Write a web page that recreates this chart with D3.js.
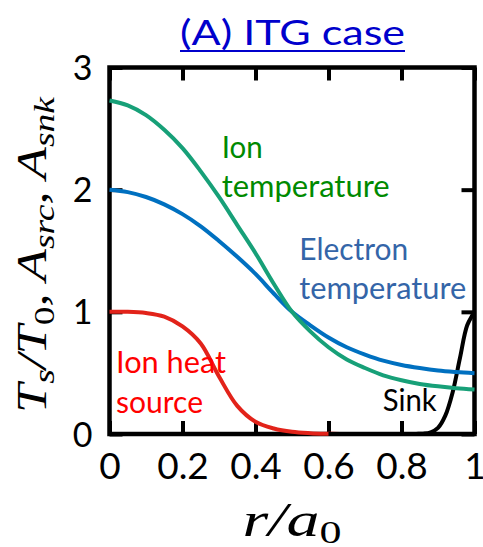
<!DOCTYPE html>
<html><head><meta charset="utf-8">
<script src="https://cdn.jsdelivr.net/npm/d3@7"></script>
<style>body{margin:0;background:#fff} svg{display:block}</style>
</head><body><svg id="c" width="483" height="547"></svg>
<script>
// ---- data ----
const radius = [0,0.05,0.1,0.15,0.2,0.25,0.3,0.35,0.4,0.45,0.5,0.55,0.6,0.65,0.7,0.75,0.8,0.85,0.9,0.95,1];
const ionTemperature = [2.73,2.69,2.61,2.49,2.34,2.15,1.94,1.71,1.48,1.23,1.00,0.84,0.71,0.61,0.54,0.48,0.44,0.41,0.39,0.375,0.365];
const electronTemperature = [2.00,1.98,1.94,1.88,1.80,1.70,1.58,1.45,1.31,1.15,1.00,0.89,0.79,0.71,0.65,0.60,0.565,0.54,0.52,0.507,0.497];
const sourceRadius = [0,0.05,0.1,0.15,0.2,0.25,0.3,0.35,0.4,0.45,0.5,0.55,0.6,0.63];
const ionHeatSource = [1.00,1.00,0.99,0.96,0.88,0.74,0.47,0.23,0.10,0.045,0.018,0.007,0.002,0];
const sinkRadius = [0.6,0.8,0.84,0.86,0.88,0.9,0.92,0.94,0.96,0.98,1];
const sinkValue = [0,0,0.001,0.003,0.014,0.05,0.15,0.34,0.62,0.89,1.0];
const xTickValues = [0,0.2,0.4,0.6,0.8,1];
const xTickLabels = ["0","0.2","0.4","0.6","0.8","1"];
const yTickValues = [0,1,2,3];
const yTickLabels = ["0","1","2","3"];

const svg = d3.select("#c");
const x = d3.scaleLinear().domain([0,1]).range([109.5,474.5]);
const y = d3.scaleLinear().domain([0,3]).range([434,67.5]);
const sans = "Lato, 'Open Sans', sans-serif";

// frame
svg.append("rect").attr("x",x(0)).attr("y",y(3)).attr("width",x(1)-x(0)).attr("height",y(0)-y(3))
  .attr("fill","none").attr("stroke","#000").attr("stroke-width",4.5);

function styleAxis(g, showText){
  g.select(".domain").remove();
  g.selectAll(".tick line").attr("stroke","#000").attr("stroke-width",4);
  if(!showText) g.selectAll(".tick text").remove();
}
const axB = svg.append("g").attr("transform",`translate(0,${y(0)})`)
  .call(d3.axisBottom(x).tickValues(xTickValues).tickSize(-13).tickFormat((d,i)=>xTickLabels[i]));
styleAxis(axB,true);
axB.selectAll(".tick text").attr("y",45).attr("dy",null).attr("font-family",sans).attr("font-size",37).attr("fill","#000");
const axT = svg.append("g").attr("transform",`translate(0,${y(3)})`)
  .call(d3.axisTop(x).tickValues(xTickValues).tickSize(-13));
styleAxis(axT,false);
const axL = svg.append("g").attr("transform",`translate(${x(0)},0)`)
  .call(d3.axisLeft(y).tickValues(yTickValues).tickSize(-13).tickFormat((d,i)=>yTickLabels[i]));
styleAxis(axL,true);
axL.selectAll(".tick text").attr("x",-17).attr("dy",null).attr("y",12).attr("font-family",sans).attr("font-size",34).attr("fill","#000");
const axR = svg.append("g").attr("transform",`translate(${x(1)},0)`)
  .call(d3.axisRight(y).tickValues(yTickValues).tickSize(-13));
styleAxis(axR,false);

// curves
const line = d3.line().x(d=>x(d[0])).y(d=>y(d[1])).curve(d3.curveCatmullRom);
function drawSeries(xs, ys, color){
  svg.append("path").datum(xs.map((v,i)=>[v,ys[i]])).attr("d",line)
    .attr("fill","none").attr("stroke",color).attr("stroke-width",4).attr("stroke-linecap","butt");
}
drawSeries(sourceRadius, ionHeatSource, "#e2231a");
drawSeries(sinkRadius, sinkValue, "#000000");
drawSeries(radius, electronTemperature, "#0070c0");
drawSeries(radius, ionTemperature, "#17a078");

// annotations
function label(txt, lx, by, color, w, fs){
  svg.append("text").attr("x",lx).attr("y",by).attr("fill",color)
    .attr("font-family",sans).attr("font-size",fs||30)
    .attr("textLength",w).attr("lengthAdjust","spacingAndGlyphs").text(txt);
}
label("Ion",221.7,158.3,"#008a00",41);
label("temperature",221.7,196.7,"#008a00",168);
label("Electron",299.3,260,"#3465a8",109);
label("temperature",299.3,299.3,"#3465a8",167);
label("Ion heat",116,373.3,"#ff0000",110);
label("source",116,412.7,"#ff0000",87);
label("Sink",382.7,410.7,"#000000",54);

// title
svg.append("text").attr("x",292.5).attr("y",45).attr("text-anchor","middle").attr("fill","#0000cc")
  .attr("font-family",sans).attr("font-size",35).attr("textLength",225).attr("lengthAdjust","spacingAndGlyphs")
  .text("(A) ITG case");
svg.append("line").attr("x1",180).attr("x2",405).attr("y1",51).attr("y2",51).attr("stroke","#0000cc").attr("stroke-width",2.2);

// axis titles
const serif = "'Liberation Serif','DejaVu Serif',serif";
const yt = svg.append("text").attr("transform","translate(46,255) rotate(-90)").attr("text-anchor","middle")
  .attr("font-family",serif).attr("font-style","italic").attr("font-size",42).attr("fill","#000")
  .attr("textLength",316).attr("lengthAdjust","spacingAndGlyphs");
const parts = [["T",0],["s",1],["/T",0],["0",1],[", A",0],["src",1],[", A",0],["snk",1]];
parts.forEach((p,i)=>{
  const prev = i>0 ? parts[i-1][1] : 0;
  const t = yt.append("tspan").text(p[0]).attr("dy", p[1] && !prev ? 8 : (!p[1] && prev ? -8 : 0));
  if(p[1]) t.attr("font-size",30);
  if(p[0]==="0") t.attr("font-style","normal");
});

const xt = svg.append("text").attr("x",292).attr("y",536).attr("text-anchor","middle")
  .attr("font-family",serif).attr("font-style","italic").attr("font-size",48).attr("fill","#000")
  .attr("textLength",99).attr("lengthAdjust","spacingAndGlyphs");
xt.append("tspan").text("r/a");
xt.append("tspan").text("0").attr("font-size",32).attr("font-style","normal").attr("dy",7);
</script></body></html>
